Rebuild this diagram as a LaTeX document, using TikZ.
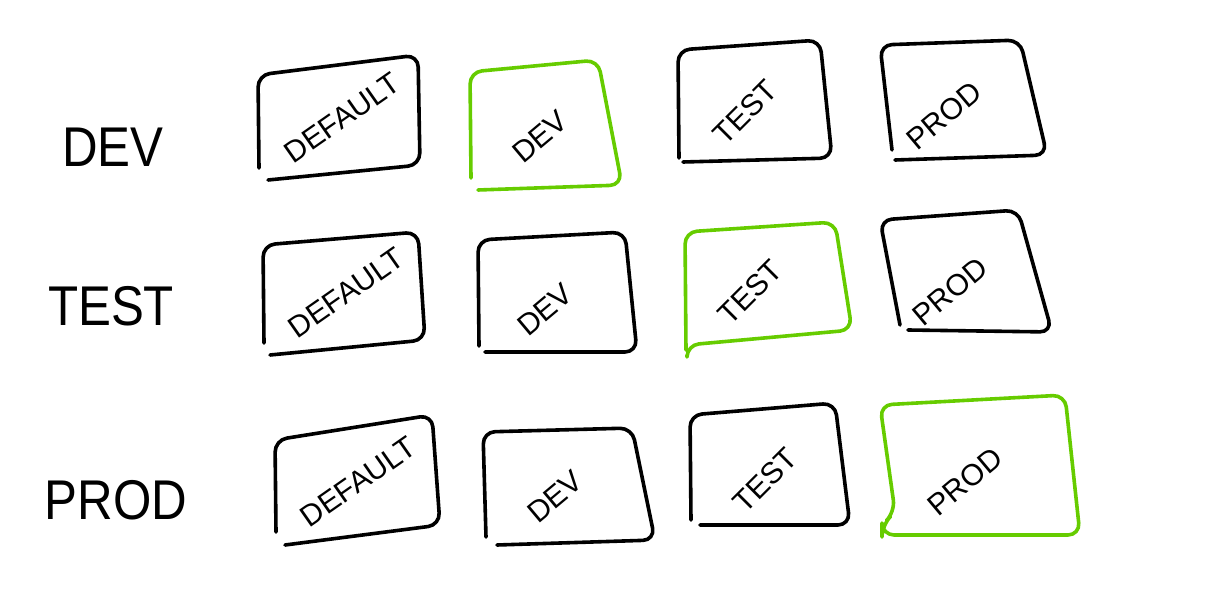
\documentclass[tikz,border=0pt]{standalone}
\usepackage{fontspec}
\setmainfont{Liberation Sans}
\usepackage{tikz}
\usepackage{xcolor}
\definecolor{gn}{RGB}{102, 204, 0}

\begin{document}
\begin{tikzpicture}[x=0.5pt, y=-0.5pt,
        sk/.style={line width=1.8pt, rounded corners=6pt, line cap=round, line join=round},
        lbl/.style={font=\fontsize{15}{15}\selectfont, inner sep=1pt},
        row/.style={font=\fontsize{28}{28}\selectfont, xscale=0.88}]
        \useasboundingbox (0,0) rectangle (1206,615);
        % row names
        \node[row] (rdev) at (113,147) {DEV};
        \node[row] (rtest) at (111,306) {TEST};
        \node[row] (rprod) at (116,500) {PROD};
        % DEV row
        \draw[sk] (268,180) -- (420,165) -- (418,55) -- (258,75) -- (259,168);
        \node[lbl, rotate=35] (dd) at (342,118) {DEFAULT};
        \draw[sk, gn] (478,190) -- (622,185) -- (598,60) -- (470,72) -- (471,178);
        \node[lbl, rotate=40] (dv) at (540,137) {DEV};
        \draw[sk] (683,162) -- (832,158) -- (820,40) -- (678,50) -- (679,158);
        \node[lbl, rotate=45] (dt) at (745,112) {TEST};
        \draw[sk] (895,160) -- (1047,155) -- (1020,40) -- (880,45) -- (892,150);
        \node[lbl, rotate=40] (dp) at (944,116) {PROD};
        % TEST row
        \draw[sk] (270,355) -- (425,340) -- (418,232) -- (263,245) -- (264,343);
        \node[lbl, rotate=35] (td) at (346,293) {DEFAULT};
        \draw[sk] (485,352) -- (637,352) -- (625,232) -- (478,240) -- (479,346);
        \node[lbl, rotate=40] (tv) at (545,310) {DEV};
        \draw[sk, gn] (687,355) -- (687,345) -- (852,330) -- (835,222) -- (685,232) -- (686,350);
        \node[lbl, rotate=45] (tt) at (750,292) {TEST};
        \draw[sk] (908,330) -- (1052,332) -- (1018,210) -- (880,220) -- (900,325);
        \node[lbl, rotate=40] (tp) at (950,292) {PROD};
        % PROD row
        \draw[sk] (285,545) -- (440,525) -- (432,415) -- (275,440) -- (276,532);
        \node[lbl, rotate=35] (pd) at (358,482) {DEFAULT};
        \draw[sk] (497,545) -- (655,540) -- (632,428) -- (483,432) -- (486,537);
        \node[lbl, rotate=40] (pv) at (555,497) {DEV};
        \draw[sk] (700,525) -- (850,525) -- (835,403) -- (690,415) -- (691,520);
        \node[lbl, rotate=45] (pt) at (765,480) {TEST};
        \draw[sk, gn] (882,535) -- (1080,535) -- (1065,395) -- (880,405) -- (895,512) -- (882,525) -- cycle;
        \node[lbl, rotate=40] (pp) at (965,482) {PROD};
    \end{tikzpicture}
\end{document}
